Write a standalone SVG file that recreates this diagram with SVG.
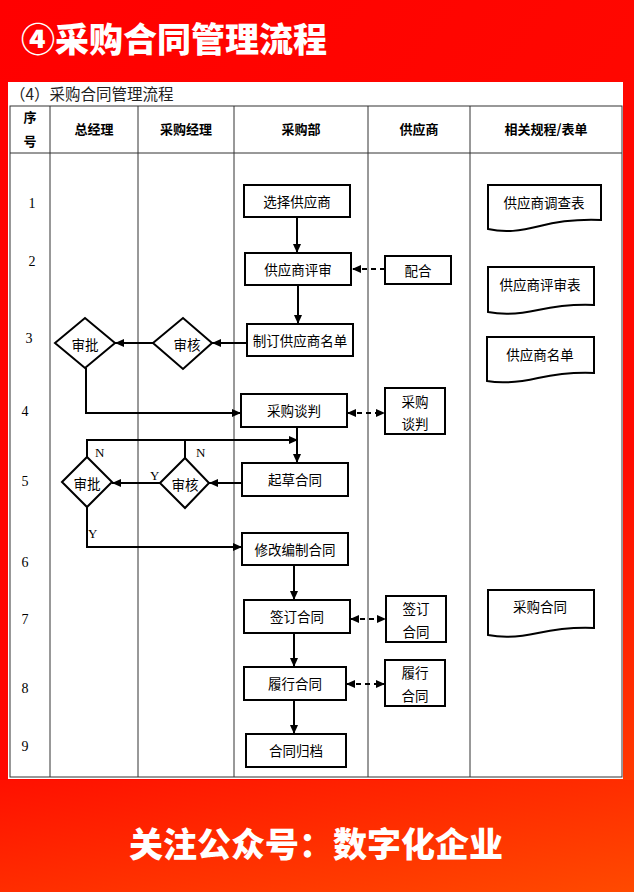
<svg xmlns="http://www.w3.org/2000/svg" width="634" height="892" viewBox="0 0 634 892">
<defs>
<linearGradient id="bg" x1="0" y1="0" x2="1" y2="1">
<stop offset="0" stop-color="#ff0000"/>
<stop offset="0.75" stop-color="#ff0a00"/>
<stop offset="1" stop-color="#ff4a00"/>
</linearGradient>
<linearGradient id="bottom" x1="0" y1="0" x2="1" y2="1">
<stop offset="0" stop-color="#ff1000"/>
<stop offset="1" stop-color="#ff4a00"/>
</linearGradient>
<marker id="ah" markerWidth="10" markerHeight="10" refX="9" refY="5" orient="auto" markerUnits="userSpaceOnUse">
<path d="M0,1 L9,5 L0,9 Z" fill="#000"/>
</marker>
<marker id="ahs" markerWidth="10" markerHeight="10" refX="1" refY="5" orient="auto" markerUnits="userSpaceOnUse">
<path d="M9,1 L0,5 L9,9 Z" fill="#000"/>
</marker>
</defs>
<style>
.title{font-family:"Noto Sans CJK SC","Noto Sans",sans-serif;font-weight:900;fill:#fff;font-size:34px}
.sub{font-family:"Noto Sans CJK SC",sans-serif;font-size:15.5px;fill:#222}
.grid{stroke:#333;stroke-width:1;fill:none}
.hd{font-family:"Noto Sans CJK SC",sans-serif;font-weight:bold;font-size:13px;fill:#000;text-anchor:middle}
.num{font-family:"Liberation Serif",serif;font-size:14px;fill:#000;text-anchor:middle}
.box{fill:#fff;stroke:#000;stroke-width:2}
.t{font-family:"Noto Sans CJK SC",sans-serif;font-size:13.5px;fill:#000;text-anchor:middle;dominant-baseline:central}
.ln{stroke:#000;stroke-width:2;fill:none}
.dash{stroke:#000;stroke-width:2;fill:none;stroke-dasharray:5,4}
.lbl{font-family:"Liberation Serif",serif;font-size:13px;fill:#000}
</style>
<rect x="0" y="0" width="634" height="892" fill="url(#bg)"/>
<rect x="0" y="780" width="634" height="112" fill="url(#bottom)"/>
<text class="title" x="21" y="52">④采购合同管理流程</text>
<text class="title" x="316" y="857" text-anchor="middle">关注公众号：数字化企业</text>
<rect x="8" y="82" width="615" height="697" fill="#fff"/>
<text class="sub" x="10" y="100">（4）采购合同管理流程</text>
<g id="table">
<rect class="grid" x="10" y="106" width="612" height="671"/>
<line class="grid" x1="10" y1="153" x2="622" y2="153"/>
<line class="grid" x1="50" y1="106" x2="50" y2="777"/>
<line class="grid" x1="138" y1="106" x2="138" y2="777"/>
<line class="grid" x1="234" y1="106" x2="234" y2="777"/>
<line class="grid" x1="368" y1="106" x2="368" y2="777"/>
<line class="grid" x1="470" y1="106" x2="470" y2="777"/>
<text class="hd" x="30" y="122">序</text>
<text class="hd" x="30" y="146">号</text>
<text class="hd" x="94" y="134">总经理</text>
<text class="hd" x="186" y="134">采购经理</text>
<text class="hd" x="301" y="134">采购部</text>
<text class="hd" x="419" y="134">供应商</text>
<text class="hd" x="546" y="134">相关规程/表单</text>
<text class="num" x="32" y="208">1</text>
<text class="num" x="32" y="266">2</text>
<text class="num" x="29" y="343">3</text>
<text class="num" x="25" y="416">4</text>
<text class="num" x="25" y="486">5</text>
<text class="num" x="25" y="567">6</text>
<text class="num" x="25" y="624">7</text>
<text class="num" x="25" y="693">8</text>
<text class="num" x="25" y="751">9</text>
</g>
<g id="connectors">
<line class="ln" x1="297" y1="217" x2="297" y2="253" marker-end="url(#ah)"/>
<line class="ln" x1="298" y1="285" x2="298" y2="324" marker-end="url(#ah)"/>
<line class="ln" x1="247" y1="343" x2="212" y2="343" marker-end="url(#ah)"/>
<line class="ln" x1="153" y1="343" x2="115" y2="343" marker-end="url(#ah)"/>
<polyline class="ln" points="86,368 86,413 241,413" marker-end="url(#ah)"/>
<line class="dash" x1="385" y1="269" x2="352" y2="269" marker-end="url(#ah)"/>
<line class="dash" x1="348" y1="413" x2="385" y2="413" marker-start="url(#ahs)" marker-end="url(#ah)"/>
<line class="ln" x1="297" y1="427" x2="297" y2="463" marker-end="url(#ah)"/>
<line class="ln" x1="242" y1="483" x2="209" y2="483" marker-end="url(#ah)"/>
<line class="ln" x1="160" y1="483" x2="112" y2="483" marker-end="url(#ah)"/>
<polyline class="ln" points="87,457 87,440 298,440" marker-end="url(#ah)"/>
<line class="ln" x1="185" y1="458" x2="185" y2="440"/>
<polyline class="ln" points="87,507 87,547 242,547" marker-end="url(#ah)"/>
<line class="ln" x1="294" y1="565" x2="294" y2="600" marker-end="url(#ah)"/>
<line class="dash" x1="351" y1="619" x2="386" y2="619" marker-start="url(#ahs)" marker-end="url(#ah)"/>
<line class="ln" x1="294" y1="633" x2="294" y2="667" marker-end="url(#ah)"/>
<line class="dash" x1="347" y1="684" x2="385" y2="684" marker-start="url(#ahs)" marker-end="url(#ah)"/>
<line class="ln" x1="294" y1="700" x2="294" y2="734" marker-end="url(#ah)"/>
<text class="lbl" x="95" y="457">N</text>
<text class="lbl" x="196" y="457">N</text>
<text class="lbl" x="150" y="480">Y</text>
<text class="lbl" x="88" y="538">Y</text>
</g>
<g id="n1"><rect class="box" x="244" y="185" width="106" height="32"/><text class="t" x="297" y="201">选择供应商</text></g>
<g id="n2"><rect class="box" x="245" y="253" width="106" height="32"/><text class="t" x="298" y="269">供应商评审</text></g>
<g id="n3"><rect class="box" x="247" y="324" width="106" height="32"/><text class="t" x="300" y="340">制订供应商名单</text></g>
<g id="n4"><rect class="box" x="241" y="394" width="106" height="33"/><text class="t" x="294" y="410">采购谈判</text></g>
<g id="n5"><rect class="box" x="242" y="463" width="106" height="33"/><text class="t" x="295" y="479">起草合同</text></g>
<g id="n6"><rect class="box" x="242" y="533" width="106" height="32"/><text class="t" x="295" y="549">修改编制合同</text></g>
<g id="n7"><rect class="box" x="244" y="600" width="106" height="33"/><text class="t" x="297" y="616">签订合同</text></g>
<g id="n8"><rect class="box" x="244" y="667" width="102" height="33"/><text class="t" x="295" y="683">履行合同</text></g>
<g id="n9"><rect class="box" x="246" y="734" width="100" height="33"/><text class="t" x="296" y="750">合同归档</text></g>
<g id="s1"><rect class="box" x="385" y="256" width="66" height="28"/><text class="t" x="418" y="270">配合</text></g>
<g id="s2"><rect class="box" x="385" y="388" width="60" height="46"/><text class="t" x="415" y="401">采购</text><text class="t" x="415" y="423">谈判</text></g>
<g id="s3"><rect class="box" x="386" y="596" width="60" height="46"/><text class="t" x="416" y="608">签订</text><text class="t" x="416" y="631">合同</text></g>
<g id="s4"><rect class="box" x="385" y="660" width="60" height="46"/><text class="t" x="415" y="672">履行</text><text class="t" x="415" y="695">合同</text></g>
<g id="d1"><polygon class="box" points="55,343 85,318 115,343 85,368"/><text class="t" x="85" y="344">审批</text></g>
<g id="d2"><polygon class="box" points="153,343 183,318 212,343 183,369"/><text class="t" x="187" y="344">审核</text></g>
<g id="d3"><polygon class="box" points="62,482 87,457 112,482 87,507"/><text class="t" x="87" y="483">审批</text></g>
<g id="d4"><polygon class="box" points="160,483 185,458 209,483 185,508"/><text class="t" x="185" y="484">审核</text></g>
<g id="f1"><path class="box" d="M488,185 H601 V220 C575,219 555,222 540,226 C520,231 505,233 488,229 Z"/><text class="t" x="544" y="202">供应商调查表</text></g>
<g id="f2"><path class="box" d="M488,267 H594 V305 C570,304 552,307 538,310 C520,314 503,315 488,312 Z"/><text class="t" x="540" y="284">供应商评审表</text></g>
<g id="f3"><path class="box" d="M487,337 H594 V373 C570,372 552,375 538,378 C520,382 503,384 487,381 Z"/><text class="t" x="540" y="354">供应商名单</text></g>
<g id="f4"><path class="box" d="M488,590 H594 V628 C570,627 552,630 538,633 C520,637 503,638 488,635 Z"/><text class="t" x="540" y="606">采购合同</text></g>
</svg>
